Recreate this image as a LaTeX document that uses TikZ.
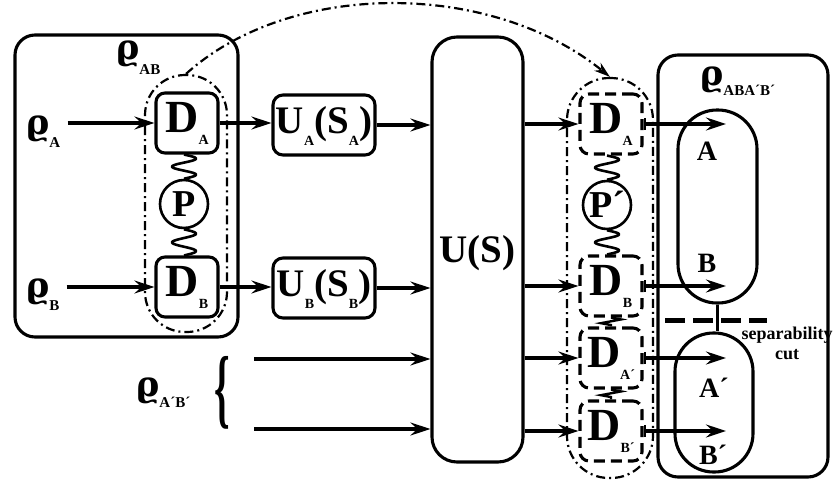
\documentclass[tikz,border=0pt]{standalone}
\usepackage{fontspec}
\setmainfont{Liberation Serif}
\newfontfamily\rhofont{DejaVu Serif}
\usetikzlibrary{arrows.meta,decorations.pathmorphing,calc}
\newcommand\mysub[3][14pt]{\raisebox{-#2}{\fontsize{#1}{#1}\selectfont\bfseries #3}}
\newcommand\myrho{{\rhofont\bfseries ϱ}}
\newcommand\mkspring[4]{% from, to, half-waves, amplitude
  \draw[springl] let \p1=(#1), \p2=(#2) in
    plot[domain=0:1,samples=50,smooth,variable=\t]
    ({\x1+(\x2-\x1)*\t+#4*sin(\t*#3*180)},{\y1+(\y2-\y1)*\t});}
\begin{document}
\begin{tikzpicture}[x=1pt,y=-1pt,
  every node/.style={inner sep=0pt},
  tipS/.tip={Stealth[length=20pt,width=13pt,inset=7pt]},
  arr/.style={line width=3.1pt,-tipS},
  barr/.style={line width=3.1pt,{Bar[width=12pt,line width=2.6pt]}-tipS},
  bigbox/.style={draw,line width=3.1pt,rounded corners=20pt},
  dbox/.style={draw,line width=3.1pt,rounded corners=9pt,minimum width=62pt,minimum height=60pt,
    font=\fontsize{46pt}{46pt}\selectfont\bfseries,text height=30pt,text depth=12pt},
  ddbox/.style={dbox,dash pattern=on 11pt off 6pt},
  ubox/.style={draw,line width=3.1pt,rounded corners=10pt,minimum width=102pt,minimum height=60pt,
    font=\fontsize{39pt}{39pt}\selectfont\bfseries,text height=27pt,text depth=10pt},
  envl/.style={draw,line width=2.2pt,dash pattern=on 9pt off 4pt on 2pt off 4pt},
  pcirc/.style={draw,circle,line width=2.6pt,minimum size=48pt,
    font=\fontsize{38pt}{38pt}\selectfont\bfseries,text height=25pt,text depth=0pt},
  springl/.style={line width=2.6pt,line join=round},
  squig/.style={line width=2.4pt,decorate,decoration={zigzag,segment length=7.5pt,amplitude=10pt}},
  capsule/.style={draw,line width=3.1pt},
  lbl/.style={font=\fontsize{28pt}{28pt}\selectfont\bfseries},
  rholbl/.style={anchor=base west,font=\fontsize{35pt}{35pt}\selectfont}
]
\useasboundingbox (0,0) rectangle (833,480);

% left group
\node[bigbox,minimum width=223pt,minimum height=302pt] (boxL) at (126.5,186) {};
\node[envl,rounded corners=40pt,minimum width=82pt,minimum height=257pt] (envL) at (186,203.5) {};
\node[dbox] (DA) at (187,123) {D\mysub{12pt}{A}};
\node[dbox] (DB) at (187,287) {D\mysub{12pt}{B}};
\node[pcirc] (P) at (184,204) {P};
\mkspring{DA.south -| P.north}{P.north}{3}{12pt}
\mkspring{P.south}{P.south |- DB.north}{3}{12pt}

\node[rholbl] (rhoAB) at (116,59) {\myrho\mysub[15pt]{15pt}{AB}};
\node[rholbl] (rhoA) at (26,134) {\myrho\mysub[15pt]{13pt}{A}};
\node[rholbl] (rhoB) at (26,297) {\myrho\mysub[15pt]{13pt}{B}};
\draw[arr] ([xshift=7pt]rhoA.east |- DA.west) -- (DA.west);
\draw[arr] ([xshift=7pt]rhoB.east |- DB.west) -- (DB.west);

% local unitaries
\node[ubox] (UA) at (324,125) {U\mysub{12pt}{A}(S\mysub{12pt}{A})};
\node[ubox] (UB) at (324,288) {U\mysub{12pt}{B}(S\mysub{12pt}{B})};
\draw[arr] (DA.east) -- (DA.east -| UA.west);
\draw[arr] (DB.east) -- (DB.east -| UB.west);

% global unitary
\node[draw,line width=3.1pt,rounded corners=25pt,minimum width=91pt,minimum height=425pt,
  font=\fontsize{39pt}{39pt}\selectfont\bfseries,text height=26pt,text depth=0pt] (US) at (477.5,249.5) {U(S)};
\draw[arr] (UA.east) -- (UA.east -| US.west);
\draw[arr] (UB.east) -- (UB.east -| US.west);

% ancilla
\node[rholbl] (rhoApBp) at (136,396) {\myrho\mysub[15pt]{11pt}{A´B´}};
\node (brace) at (222,393) {\scalebox{0.45}[1]{\fontsize{88pt}{88pt}\selectfont\bfseries\{}};
\coordinate (in1) at (254,359);
\coordinate (in2) at (254,429);
\draw[arr] (in1) -- (in1 -| US.west);
\draw[arr] (in2) -- (in2 -| US.west);

% right detectors
\node[envl,rounded corners=42pt,minimum width=86pt,minimum height=400pt] (envR) at (610,278) {};
\node[ddbox] (DAr) at (611,124) {D\mysub{12pt}{A}};
\node[ddbox] (DBr) at (611,286) {D\mysub{12pt}{B}};
\node[ddbox] (DApr) at (611,358) {D\mysub{12pt}{A´}};
\node[ddbox] (DBpr) at (611,431) {D\mysub{12pt}{B´}};
\node[pcirc] (Pp) at (607,205) {P´};
\mkspring{DAr.south -| Pp.north}{Pp.north}{3}{12pt}
\mkspring{Pp.south}{Pp.south |- DBr.north}{3}{12pt}
\draw[squig] (DBr.south) -- (DApr.north);
\draw[squig] (DApr.south) -- (DBpr.north);

\draw[envl,-{Stealth[length=16pt,width=10pt,inset=5pt]}] (envL.north) .. controls (290,-20) and (490,-20) .. (envR.north);

\foreach \d in {DAr,DBr,DApr,DBpr} {
  \draw[arr] (US.east |- \d.west) -- (\d.west);
}

% output state
\node[bigbox,minimum width=170pt,minimum height=422pt] (boxR) at (743,266) {};
\node[rholbl] (rhoR) at (700,85) {\myrho\mysub[15pt]{10pt}{ABA´B´}};
\node[capsule,rounded corners=39pt,minimum width=79pt,minimum height=193pt] (capA) at (717.5,206.5) {};
\node[capsule,rounded corners=38.5pt,minimum width=78pt,minimum height=139pt] (capB) at (714,402.5) {};
\node[lbl] (lA) at (707,151) {A};
\node[lbl] (lB) at (707,263) {B};
\node[lbl] (lAp) at (714,388) {A´};
\node[lbl] (lBp) at (713,455) {B´};
\coordinate (tipx) at (726,0);
\foreach \d in {DAr,DBr,DApr,DBpr} {
  \draw[barr] (\d.east) -- (\d.east -| tipx);
}
\draw[line width=2.6pt] (capA.south) -- (capA.south |- capB.north);
\coordinate (cutL) at (665,320);
\coordinate (cutR) at (767,320);
\draw[line width=5pt,dash pattern=on 20pt off 8pt] (cutL) -- (cutR);
\node[font=\fontsize{18pt}{20pt}\selectfont\bfseries,align=center] (sep) at (787,343) {separability\\cut};
\end{tikzpicture}
\end{document}
